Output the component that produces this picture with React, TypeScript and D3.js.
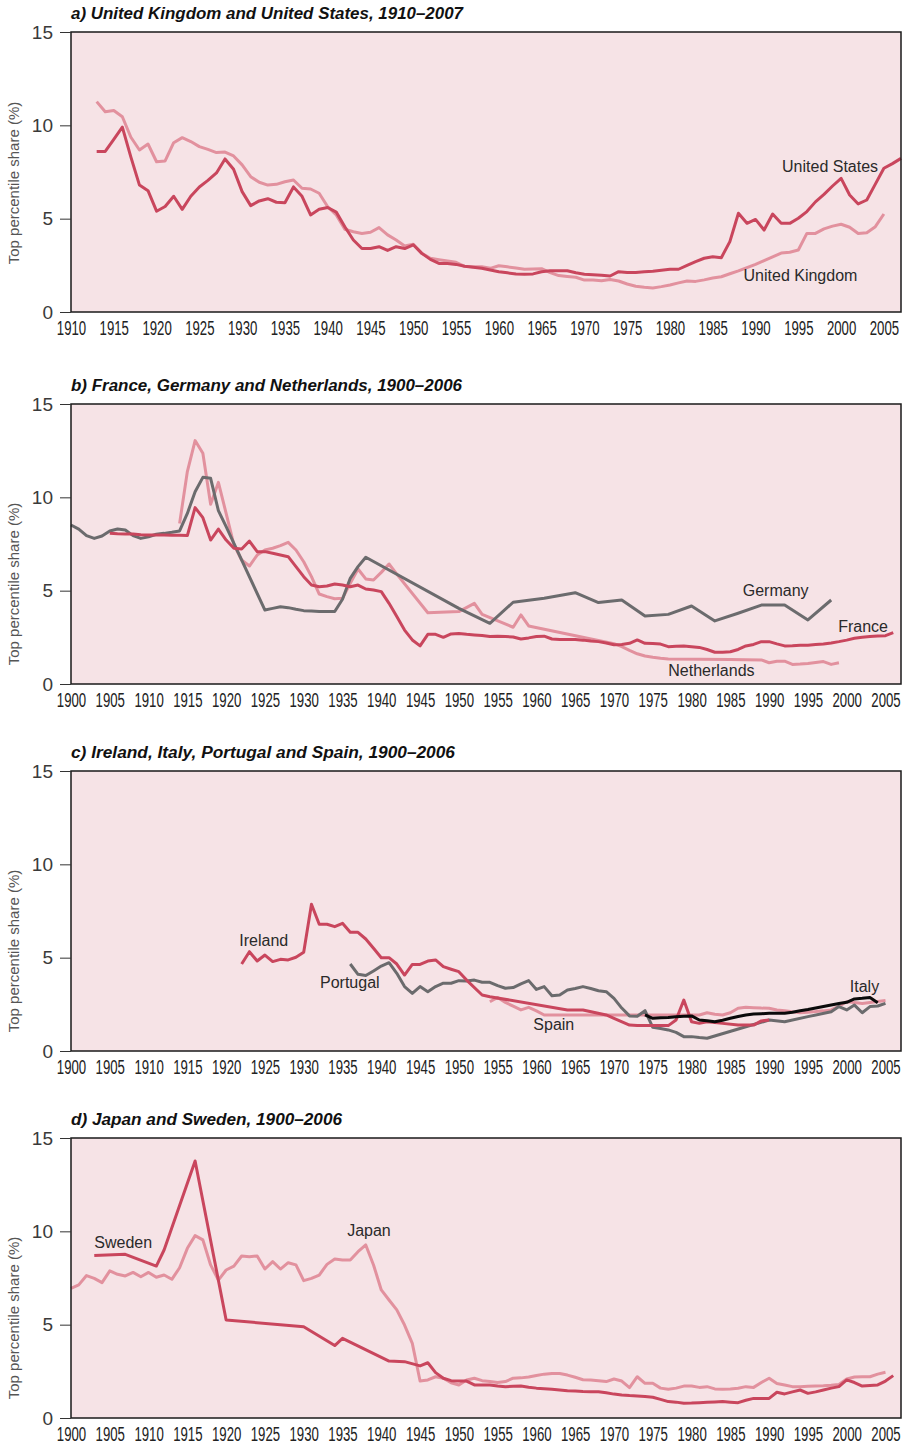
import React, { useEffect, useRef } from 'react'
import * as d3 from 'd3'

type Pt = [number, number]

// top percentile income share (%)
const unitedStates: Pt[] = [[1913,8.6],[1914,8.6],[1915,9.25],[1916,9.9],[1917,8.3],[1918,6.8],[1919,6.5],[1920,5.4],[1921,5.65],[1922,6.2],[1923,5.5],[1924,6.2],[1925,6.7],[1926,7.05],[1927,7.45],[1928,8.2],[1929,7.65],[1930,6.45],[1931,5.7],[1932,5.95],[1933,6.07],[1934,5.88],[1935,5.85],[1936,6.7],[1937,6.2],[1938,5.2],[1939,5.5],[1940,5.6],[1941,5.35],[1942,4.57],[1943,3.86],[1944,3.4],[1945,3.4],[1946,3.5],[1947,3.3],[1948,3.5],[1949,3.4],[1950,3.6],[1951,3.14],[1952,2.82],[1953,2.6],[1954,2.6],[1955,2.55],[1956,2.45],[1957,2.4],[1958,2.34],[1959,2.25],[1960,2.16],[1961,2.1],[1962,2.03],[1963,2.02],[1964,2.04],[1965,2.16],[1966,2.21],[1967,2.21],[1968,2.21],[1969,2.1],[1970,2.02],[1971,1.99],[1972,1.97],[1973,1.93],[1974,2.16],[1975,2.12],[1976,2.11],[1977,2.15],[1978,2.18],[1979,2.24],[1980,2.29],[1981,2.29],[1982,2.5],[1983,2.7],[1984,2.88],[1985,2.96],[1986,2.91],[1987,3.77],[1988,5.29],[1989,4.75],[1990,4.96],[1991,4.39],[1992,5.25],[1993,4.75],[1994,4.75],[1995,5.02],[1996,5.38],[1997,5.9],[1998,6.3],[1999,6.75],[2000,7.16],[2001,6.27],[2002,5.79],[2003,6.0],[2004,6.85],[2005,7.7],[2006,7.95],[2007,8.23]]
const unitedKingdom: Pt[] = [[1913,11.27],[1914,10.73],[1915,10.79],[1916,10.46],[1917,9.36],[1918,8.68],[1919,9.0],[1920,8.05],[1921,8.09],[1922,9.07],[1923,9.34],[1924,9.13],[1925,8.86],[1926,8.71],[1927,8.54],[1928,8.57],[1929,8.36],[1930,7.88],[1931,7.25],[1932,6.95],[1933,6.8],[1934,6.84],[1935,6.98],[1936,7.07],[1937,6.63],[1938,6.59],[1939,6.36],[1940,5.64],[1941,5.2],[1942,4.43],[1943,4.3],[1944,4.21],[1945,4.27],[1946,4.52],[1947,4.13],[1948,3.86],[1949,3.54],[1950,3.63],[1951,3.14],[1952,2.88],[1953,2.8],[1954,2.73],[1955,2.66],[1956,2.45],[1957,2.43],[1958,2.43],[1959,2.34],[1960,2.48],[1961,2.42],[1962,2.36],[1963,2.29],[1964,2.31],[1965,2.32],[1966,2.11],[1967,1.95],[1968,1.9],[1969,1.86],[1970,1.71],[1971,1.71],[1972,1.67],[1973,1.74],[1974,1.66],[1975,1.5],[1976,1.38],[1977,1.32],[1978,1.29],[1979,1.36],[1980,1.45],[1981,1.56],[1982,1.66],[1983,1.64],[1984,1.72],[1985,1.82],[1986,1.89],[1987,2.05],[1988,2.2],[1989,2.38],[1990,2.55],[1991,2.75],[1992,2.95],[1993,3.16],[1994,3.2],[1995,3.32],[1996,4.21],[1997,4.21],[1998,4.45],[1999,4.6],[2000,4.7],[2001,4.54],[2002,4.21],[2003,4.25],[2004,4.57],[2005,5.25]]

const germany: Pt[] = [[1900,8.52],[1901,8.3],[1902,7.95],[1903,7.8],[1904,7.93],[1905,8.2],[1906,8.3],[1907,8.25],[1908,7.95],[1909,7.8],[1910,7.89],[1911,8.02],[1912,8.07],[1913,8.13],[1914,8.2],[1915,9.14],[1916,10.3],[1917,11.07],[1918,11.02],[1919,9.29],[1920,8.43],[1925,3.96],[1926,4.05],[1927,4.14],[1928,4.09],[1929,4.0],[1930,3.93],[1931,3.91],[1932,3.89],[1933,3.88],[1934,3.88],[1935,4.54],[1936,5.66],[1937,6.29],[1938,6.79],[1950,4.05],[1954,3.25],[1957,4.38],[1961,4.59],[1965,4.89],[1968,4.36],[1971,4.5],[1974,3.64],[1977,3.73],[1980,4.18],[1983,3.38],[1986,3.79],[1989,4.23],[1992,4.23],[1995,3.43],[1998,4.5]]
const france: Pt[] = [[1905,8.07],[1906,8.05],[1907,8.04],[1908,8.03],[1909,8.0],[1910,7.98],[1911,7.98],[1912,7.98],[1913,7.97],[1914,7.97],[1915,7.95],[1916,9.45],[1917,8.91],[1918,7.71],[1919,8.3],[1920,7.71],[1921,7.27],[1922,7.23],[1923,7.66],[1924,7.09],[1925,7.09],[1926,7.0],[1927,6.91],[1928,6.82],[1929,6.29],[1930,5.75],[1931,5.3],[1932,5.21],[1933,5.25],[1934,5.36],[1935,5.3],[1936,5.21],[1937,5.3],[1938,5.09],[1939,5.04],[1940,4.95],[1941,4.32],[1942,3.61],[1943,2.89],[1944,2.36],[1945,2.04],[1946,2.66],[1947,2.66],[1948,2.5],[1949,2.68],[1950,2.7],[1951,2.66],[1952,2.63],[1953,2.6],[1954,2.54],[1955,2.56],[1956,2.54],[1957,2.52],[1958,2.41],[1959,2.47],[1960,2.54],[1961,2.56],[1962,2.41],[1963,2.38],[1964,2.39],[1965,2.39],[1966,2.35],[1967,2.3],[1968,2.27],[1969,2.2],[1970,2.1],[1971,2.12],[1972,2.18],[1973,2.36],[1974,2.18],[1975,2.17],[1976,2.14],[1977,2.0],[1978,2.02],[1979,2.04],[1980,2.0],[1981,1.96],[1982,1.85],[1983,1.7],[1984,1.7],[1985,1.73],[1986,1.85],[1987,2.04],[1988,2.12],[1989,2.27],[1990,2.27],[1991,2.15],[1992,2.04],[1993,2.05],[1994,2.07],[1995,2.08],[1996,2.11],[1997,2.14],[1998,2.2],[1999,2.27],[2000,2.35],[2001,2.45],[2002,2.5],[2003,2.54],[2004,2.57],[2005,2.59],[2006,2.75]]
const netherlands: Pt[] = [[1914,8.6],[1915,11.38],[1916,13.04],[1917,12.36],[1918,9.63],[1919,10.8],[1920,9.14],[1921,7.45],[1922,6.64],[1923,6.32],[1924,6.91],[1925,7.18],[1926,7.27],[1927,7.41],[1928,7.59],[1929,7.18],[1930,6.55],[1931,5.75],[1932,4.82],[1933,4.68],[1934,4.57],[1935,4.59],[1936,5.39],[1937,6.16],[1938,5.63],[1939,5.57],[1940,5.98],[1941,6.43],[1942,5.89],[1946,3.82],[1950,3.88],[1952,4.32],[1953,3.73],[1957,3.04],[1958,3.7],[1959,3.11],[1970,2.16],[1971,2.0],[1972,1.8],[1973,1.62],[1974,1.5],[1975,1.43],[1976,1.38],[1977,1.34],[1981,1.33],[1985,1.31],[1989,1.29],[1990,1.14],[1991,1.22],[1992,1.22],[1993,1.05],[1994,1.07],[1995,1.1],[1996,1.15],[1997,1.2],[1998,1.05],[1999,1.14]]

const ireland: Pt[] = [[1922,4.66],[1923,5.32],[1924,4.82],[1925,5.14],[1926,4.79],[1927,4.91],[1928,4.88],[1929,5.02],[1930,5.29],[1931,7.86],[1932,6.79],[1933,6.79],[1934,6.66],[1935,6.84],[1936,6.36],[1937,6.36],[1938,6.0],[1939,5.5],[1940,5.0],[1941,5.0],[1942,4.66],[1943,4.07],[1944,4.64],[1945,4.64],[1946,4.82],[1947,4.88],[1948,4.52],[1949,4.38],[1950,4.25],[1951,3.8],[1953,3.0],[1954,2.91],[1964,2.2],[1966,2.2],[1969,1.93],[1970,1.75],[1972,1.39],[1973,1.36],[1977,1.36],[1978,1.66],[1979,2.73],[1980,1.57],[1981,1.48],[1982,1.57],[1984,1.48],[1986,1.39],[1988,1.39],[1989,1.61],[1990,1.66]]
const portugal: Pt[] = [[1936,4.66],[1937,4.11],[1938,4.04],[1939,4.29],[1940,4.55],[1941,4.73],[1942,4.16],[1943,3.45],[1944,3.09],[1945,3.45],[1946,3.18],[1947,3.45],[1948,3.63],[1949,3.63],[1950,3.77],[1951,3.75],[1952,3.8],[1953,3.68],[1954,3.68],[1955,3.5],[1956,3.36],[1957,3.4],[1958,3.6],[1959,3.77],[1960,3.3],[1961,3.45],[1962,2.96],[1963,3.0],[1964,3.27],[1965,3.35],[1966,3.45],[1967,3.35],[1968,3.23],[1969,3.18],[1970,2.82],[1971,2.3],[1972,1.88],[1973,1.86],[1974,2.16],[1975,1.27],[1976,1.2],[1977,1.13],[1978,1.0],[1979,0.77],[1980,0.77],[1981,0.72],[1982,0.68],[1987,1.3],[1990,1.66],[1992,1.57],[1995,1.84],[1998,2.1],[1999,2.38],[2000,2.2],[2001,2.46],[2002,2.05],[2003,2.38],[2004,2.41],[2005,2.55]]
const spain: Pt[] = [[1954,2.64],[1955,2.87],[1956,2.6],[1957,2.4],[1958,2.2],[1959,2.34],[1960,2.15],[1961,1.93],[1981,1.93],[1982,2.05],[1983,1.97],[1984,1.93],[1985,2.05],[1986,2.29],[1987,2.34],[1988,2.32],[1989,2.3],[1990,2.29],[1991,2.2],[1992,2.16],[1993,2.1],[1994,2.05],[1995,2.08],[1996,2.11],[1997,2.15],[1998,2.2],[1999,2.4],[2000,2.64],[2001,2.6],[2002,2.55],[2003,2.6],[2004,2.65],[2005,2.7]]
const italy: Pt[] = [[1974,1.93],[1975,1.75],[1976,1.78],[1977,1.79],[1978,1.84],[1979,1.86],[1980,1.88],[1981,1.66],[1982,1.62],[1983,1.57],[1984,1.65],[1985,1.75],[1986,1.85],[1987,1.93],[1988,1.98],[1989,2.0],[1990,2.02],[1991,2.02],[1992,2.02],[1993,2.08],[1994,2.16],[1995,2.22],[1996,2.3],[1997,2.38],[1998,2.46],[1999,2.54],[2000,2.61],[2001,2.79],[2002,2.82],[2003,2.86],[2004,2.59]]

const sweden: Pt[] = [[1903,8.7],[1907,8.77],[1911,8.14],[1912,9.0],[1916,13.77],[1920,5.25],[1930,4.89],[1934,3.88],[1935,4.27],[1941,3.05],[1943,3.02],[1945,2.79],[1946,2.96],[1947,2.43],[1948,2.13],[1949,2.0],[1950,1.98],[1951,1.98],[1952,1.77],[1953,1.77],[1954,1.77],[1955,1.72],[1956,1.68],[1957,1.7],[1958,1.71],[1959,1.65],[1960,1.6],[1961,1.57],[1962,1.54],[1963,1.5],[1964,1.46],[1965,1.44],[1966,1.42],[1967,1.41],[1968,1.41],[1969,1.35],[1970,1.28],[1971,1.23],[1972,1.2],[1973,1.18],[1974,1.15],[1975,1.11],[1976,1.0],[1977,0.88],[1978,0.85],[1979,0.79],[1980,0.8],[1981,0.82],[1982,0.84],[1983,0.86],[1984,0.88],[1985,0.85],[1986,0.82],[1987,0.95],[1988,1.05],[1989,1.05],[1990,1.05],[1991,1.38],[1992,1.29],[1993,1.4],[1994,1.5],[1995,1.32],[1996,1.4],[1997,1.5],[1998,1.6],[1999,1.68],[2000,2.04],[2001,1.9],[2002,1.71],[2003,1.74],[2004,1.77],[2005,1.98],[2006,2.27]]
const japan: Pt[] = [[1900,6.95],[1901,7.13],[1902,7.63],[1903,7.48],[1904,7.25],[1905,7.88],[1906,7.7],[1907,7.61],[1908,7.8],[1909,7.57],[1910,7.8],[1911,7.54],[1912,7.66],[1913,7.43],[1914,8.05],[1915,9.09],[1916,9.77],[1917,9.54],[1918,8.2],[1919,7.39],[1920,7.93],[1921,8.14],[1922,8.68],[1923,8.64],[1924,8.68],[1925,7.98],[1926,8.38],[1927,7.98],[1928,8.32],[1929,8.2],[1930,7.36],[1931,7.48],[1932,7.66],[1933,8.23],[1934,8.52],[1935,8.46],[1936,8.46],[1937,8.91],[1938,9.27],[1939,8.2],[1940,6.86],[1941,6.32],[1942,5.79],[1943,4.98],[1944,4.0],[1945,1.98],[1946,2.04],[1947,2.21],[1948,2.13],[1949,1.89],[1950,1.77],[1951,2.04],[1952,2.13],[1953,2.0],[1954,1.95],[1955,1.9],[1956,1.95],[1957,2.13],[1958,2.15],[1959,2.2],[1960,2.28],[1961,2.35],[1962,2.39],[1963,2.38],[1964,2.3],[1965,2.18],[1966,2.05],[1967,2.03],[1968,2.0],[1969,1.95],[1970,2.09],[1971,1.98],[1972,1.63],[1973,2.21],[1974,1.86],[1975,1.86],[1976,1.6],[1977,1.54],[1978,1.6],[1979,1.71],[1980,1.71],[1981,1.64],[1982,1.68],[1983,1.56],[1984,1.54],[1985,1.56],[1986,1.59],[1987,1.68],[1988,1.64],[1989,1.9],[1990,2.13],[1991,1.85],[1992,1.77],[1993,1.68],[1994,1.68],[1995,1.7],[1996,1.72],[1997,1.73],[1998,1.76],[1999,1.8],[2000,2.09],[2001,2.2],[2002,2.21],[2003,2.21],[2004,2.35],[2005,2.45]]

const yTicks = [0, 5, 10, 15]
const yTitle = 'Top percentile share (%)'

const DARK = '#c9465d'
const LIGHT = '#e2919e'
const GREY = '#6b6b6d'
const BLACK = '#0a0a0a'

type Series = { data: Pt[], color: string }
type Label = { text: string, year: number, value: number }
type Panel = {
  title: string, titleWidth: number, top: number, yTitleShift: number,
  domain: [number, number], ticks: number[], series: Series[], labels: Label[]
}

const panels: Panel[] = [
  {
    title: 'a) United Kingdom and United States, 1910–2007', titleWidth: 392, top: 32, yTitleShift: 151,
    domain: [1910, 2007], ticks: d3.range(1910, 2006, 5),
    series: [{ data: unitedKingdom, color: LIGHT }, { data: unitedStates, color: DARK }],
    labels: [{ text: 'United States', year: 1993.1, value: 7.5 }, { text: 'United Kingdom', year: 1988.6, value: 1.66 }]
  },
  {
    title: 'b) France, Germany and Netherlands, 1900–2006', titleWidth: 391, top: 404, yTitleShift: 180,
    domain: [1900, 2007], ticks: d3.range(1900, 2006, 5),
    series: [{ data: netherlands, color: LIGHT }, { data: germany, color: GREY }, { data: france, color: DARK }],
    labels: [{ text: 'Germany', year: 1986.6, value: 4.71 }, { text: 'France', year: 1998.9, value: 2.8 }, { text: 'Netherlands', year: 1977, value: 0.43 }]
  },
  {
    title: 'c) Ireland, Italy, Portugal and Spain, 1900–2006', titleWidth: 384, top: 771, yTitleShift: 180,
    domain: [1900, 2007], ticks: d3.range(1900, 2006, 5),
    series: [{ data: spain, color: LIGHT }, { data: portugal, color: GREY }, { data: ireland, color: DARK }, { data: italy, color: BLACK }],
    labels: [{ text: 'Ireland', year: 1921.7, value: 5.6 }, { text: 'Portugal', year: 1932.1, value: 3.37 }, { text: 'Spain', year: 1959.6, value: 1.12 }, { text: 'Italy', year: 2000.4, value: 3.16 }]
  },
  {
    title: 'd) Japan and Sweden, 1900–2006', titleWidth: 271, top: 1138, yTitleShift: 180,
    domain: [1900, 2007], ticks: d3.range(1900, 2006, 5),
    series: [{ data: japan, color: LIGHT }, { data: sweden, color: DARK }],
    labels: [{ text: 'Sweden', year: 1903, value: 9.13 }, { text: 'Japan', year: 1935.6, value: 9.75 }]
  }
]

const App: React.FC = () => {
  const svgRef = useRef() as React.MutableRefObject<SVGSVGElement>

  useEffect(() => {
    const left = 71
    const right = 901
    const height = 280
    const sans = '"Liberation Sans", Arial, sans-serif'

    const svg = d3.select(svgRef.current)
    svg.html('')

    panels.forEach(p => {
      const x = d3.scaleLinear().domain(p.domain).range([left, right])
      const y = d3.scaleLinear().domain([0, 15]).range([p.top + height, p.top])
      const g = svg.append('g')

      // plot background
      g.append('rect')
        .attr('x', left).attr('y', p.top)
        .attr('width', right - left).attr('height', height)
        .attr('fill', '#f6e3e6')

      // title
      g.append('text')
        .attr('x', left).attr('y', p.top - 13)
        .attr('font-family', sans)
        .attr('font-weight', 'bold').attr('font-style', 'italic')
        .attr('font-size', 16)
        .attr('textLength', p.titleWidth).attr('lengthAdjust', 'spacingAndGlyphs')
        .attr('fill', '#111')
        .text(p.title)

      // lines
      const line = d3.line<Pt>()
        .x(d => x(d[0]))
        .y(d => y(d[1]))
      p.series.forEach(s => {
        g.append('path')
          .datum(s.data)
          .attr('fill', 'none')
          .attr('stroke', s.color)
          .attr('stroke-width', 3)
          .attr('stroke-linejoin', 'round')
          .attr('d', line)
      })

      // frame
      g.append('rect')
        .attr('x', left).attr('y', p.top)
        .attr('width', right - left).attr('height', height)
        .attr('fill', 'none').attr('stroke', '#1a1a1a').attr('stroke-width', 1.5)

      // y axis
      const yAxis = g.append('g')
        .attr('transform', `translate(${left},0)`)
        .call(d3.axisLeft(y).tickValues(yTicks).tickSize(11).tickPadding(7))
      yAxis.select('.domain').remove()
      yAxis.selectAll('line').attr('stroke', '#333')
      yAxis.selectAll('text')
        .attr('font-family', sans).attr('font-size', 19)
        .attr('fill', '#3a3a3a')

      // x axis, condensed digits squeezed horizontally
      const xAxis = g.append('g')
        .attr('transform', `translate(0,${p.top + height})`)
        .call(d3.axisBottom(x).tickValues(p.ticks).tickFormat(d3.format('d')).tickSize(0).tickPadding(9))
      xAxis.select('.domain').remove()
      xAxis.selectAll('text')
        .attr('font-family', sans).attr('font-size', 20)
        .attr('fill', '#222')
        .attr('transform', 'scale(0.66,1)')

      // y title
      g.append('text')
        .attr('transform', `translate(19,${p.top + p.yTitleShift}) rotate(-90)`)
        .attr('text-anchor', 'middle')
        .attr('font-family', sans).attr('font-size', 15)
        .attr('fill', '#555')
        .text(yTitle)

      // series labels
      p.labels.forEach(l => {
        g.append('text')
          .attr('x', x(l.year)).attr('y', y(l.value))
          .attr('font-family', sans).attr('font-size', 16)
          .attr('fill', '#2a2a2a')
          .text(l.text)
      })
    })
  }, [])

  return <svg ref={svgRef} width={905} height={1448} style={{ position: 'absolute', left: 0, top: 0 }} />
}

export default App
